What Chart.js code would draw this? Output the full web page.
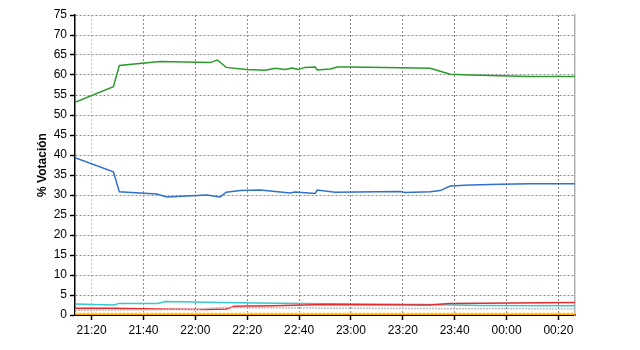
<!DOCTYPE html>
<html>
<head>
<meta charset="utf-8">
<script src="https://cdn.jsdelivr.net/npm/chart.js@4"></script>
<style>
  html, body { margin: 0; padding: 0; background: #fff; }
  #wrap { width: 640px; height: 350px; }
</style>
</head>
<body>
<div id="wrap"><canvas id="chart"></canvas></div>
<script>
// Time in minutes after 21:00
const xMin = 13.6;
const xMax = 206.4;
const xTickValues = [20, 40, 60, 80, 100, 120, 140, 160, 180, 200];
const yTickStep = 5;

const greenTimes = [13.6, 28.4, 30.7, 46.4, 65.7, 68.5, 71.9, 79.8, 86.9, 90.8, 94.6, 97.3, 99.6, 102.3, 106.2, 107, 112, 114.7, 119.7, 139, 150.6, 158.3, 166, 177.6, 189.1, 206.4];
const greenValues = [53.2, 57.1, 62.4, 63.4, 63.1, 63.75, 61.9, 61.4, 61.2, 61.7, 61.4, 61.75, 61.4, 61.9, 62.0, 61.25, 61.5, 62.0, 62.0, 61.8, 61.7, 60.2, 60.0, 59.8, 59.6, 59.6];

const blueTimes = [13.6, 28.4, 30.7, 45.1, 49, 64.4, 69.5, 71.9, 77.3, 85, 92.7, 96.5, 98.5, 106.2, 107, 113.9, 139, 140.9, 150.6, 154.4, 158.3, 166, 177.6, 189.1, 206.4];
const blueValues = [39.3, 35.8, 30.8, 30.25, 29.5, 30.0, 29.5, 30.7, 31.1, 31.25, 30.75, 30.5, 30.75, 30.4, 31.25, 30.7, 30.9, 30.6, 30.8, 31.1, 32.25, 32.5, 32.7, 32.8, 32.8];

const cyanTimes = [13.6, 28.4, 30.7, 45.5, 48.5, 70, 84, 110, 150, 170, 206.4];
const cyanValues = [2.75, 2.5, 2.9, 2.9, 3.4, 3.1, 3.0, 2.8, 2.6, 2.4, 2.3];

const redTimes = [13.6, 28.4, 45, 64.4, 71.9, 75, 90, 110, 150, 158, 206.4];
const redValues = [1.7, 1.7, 1.5, 1.4, 1.5, 2.2, 2.3, 2.6, 2.5, 2.9, 3.1];

const grayTimes = [13.6, 60, 70, 90, 110, 150, 206.4];
const grayValues = [1.2, 1.4, 1.9, 1.8, 1.7, 1.6, 1.5];

const yellowTimes = [13.6, 206.4];
const yellowValues = [0.5, 0.5];

const orangeTimes = [13.6, 206.4];
const orangeValues = [0.2, 0.2];

function zip(times, values) {
  return times.map((t, i) => ({ x: t, y: values[i] }));
}

function timeLabel(v) {
  const total = 21 * 60 + v;
  const h = Math.floor(total / 60) % 24;
  const m = Math.round(total % 60);
  return String(h).padStart(2, "0") + ":" + String(m).padStart(2, "0");
}

function line(values, color, width, dash) {
  return {
    data: values,
    borderColor: color,
    borderWidth: width,
    borderDash: dash || [],
    pointRadius: 0,
    tension: 0,
    fill: false,
  };
}

const font = { family: "'Liberation Sans', Arial, sans-serif", size: 12 };

new Chart(document.getElementById("chart"), {
  type: "line",
  data: {
    datasets: [
      line(zip(orangeTimes, orangeValues), "#ffa200", 1.5),
      line(zip(yellowTimes, yellowValues), "#ffe07a", 1.5, [2, 2]),
      line(zip(grayTimes, grayValues), "#bdbdbd", 1.5, [2, 1]),
      line(zip(redTimes, redValues), "#e8282a", 1.5),
      line(zip(cyanTimes, cyanValues), "#35c8cc", 1.5),
      line(zip(blueTimes, blueValues), "#2f70c8", 1.5),
      line(zip(greenTimes, greenValues), "#2a9a2a", 1.5),
    ],
  },
  options: {
    responsive: true,
    maintainAspectRatio: false,
    animation: false,
    layout: { padding: { left: 0, right: 65, top: 15, bottom: 0 } },
    plugins: { legend: { display: false }, tooltip: { enabled: false } },
    scales: {
      x: {
        type: "linear",
        min: xMin,
        max: xMax,
        afterBuildTicks: (scale) => {
          scale.ticks = xTickValues.map((v) => ({ value: v }));
        },
        afterFit: (scale) => { scale.height = 35; },
        ticks: {
          color: "#000",
          font: font,
          padding: 3,
          maxRotation: 0,
          autoSkip: false,
          callback: (v) => timeLabel(v),
        },
        grid: {
          color: (ctx) => (ctx.tick && ctx.tick.value === 20 ? "#c4c4c4" : "#8a8a8a"),
          lineWidth: 1,
          drawTicks: true,
          tickLength: 5,
          tickColor: "#000",
          tickBorderDash: [],
          tickWidth: 1.5,
        },
        border: { display: true, color: "#000", width: 2, dash: [2, 2] },
      },
      y: {
        min: 0,
        max: 75,
        afterFit: (scale) => { scale.width = 75; },
        ticks: { stepSize: yTickStep, color: "#000", font: font, padding: 3 },
        title: {
          display: true,
          text: "% Votación",
          color: "#000",
          font: { family: font.family, size: 12, weight: "bold" },
          padding: { top: 35, bottom: 4 },
        },
        grid: {
          color: "#8a8a8a",
          lineWidth: 1,
          drawTicks: true,
          tickLength: 5,
          tickColor: "#000",
          tickBorderDash: [],
          tickWidth: 1.5,
        },
        border: { display: true, color: "#000", width: 1.5, dash: [2, 2] },
      },
      yRight: {
        position: "right",
        min: 0,
        max: 75,
        afterFit: (scale) => { scale.width = 0; },
        ticks: { display: false },
        grid: { display: false },
        border: { display: true, color: "#b0b0b0", width: 1.5 },
      },
    },
  },
});
</script>
</body>
</html>
